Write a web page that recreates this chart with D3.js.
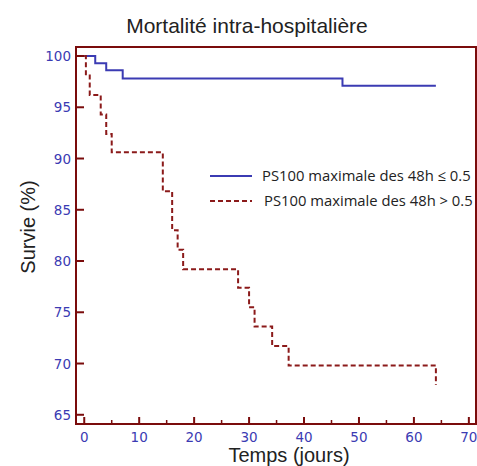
<!DOCTYPE html>
<html>
<head>
<meta charset="utf-8">
<script src="https://cdn.jsdelivr.net/npm/d3@7"></script>
<style>
  body { margin: 0; background: #fff; }
  text { font-family: "Liberation Sans", Arial, sans-serif; }
</style>
</head>
<body>
<svg id="chart" width="477" height="466"></svg>
<script>
// survival curves (time in days, survival in %)
const lowTimes = [0, 2, 4, 7, 47, 64];
const lowSurv = [100, 99.3, 98.6, 97.8, 97.1, 97.1];
const highTimes = [0, 0.3, 1, 3, 4, 5, 14.3, 16, 17, 18, 28, 30, 31, 34.2, 37.2, 64];
const highSurv = [100, 98.1, 96.2, 94.3, 92.4, 90.6, 86.8, 83.0, 81.1, 79.2, 77.4, 75.5, 73.6, 71.7, 69.8, 67.9];
const xTicks = [0, 10, 20, 30, 40, 50, 60, 70];
const xMinor = [5, 15, 25, 35, 45, 55, 65];
const yTicks = [65, 70, 75, 80, 85, 90, 95, 100];
const legendLabels = ["PS100 maximale des 48h \u2264 0.5", "PS100 maximale des 48h > 0.5"];

const frameColor = "#7a0c0c";
const blue = "#3b3bb3";
const red = "#8b1a1a";

const svg = d3.select("#chart");
const mLeft = 76, mRight = 476, mTop = 47, mBottom = 424;

const X = d3.scaleLinear().domain([-1.5, 71.3]).range([mLeft, mRight]);
const Y = d3.scaleLinear().domain([64.1, 100.88]).range([mBottom, mTop]);

// title and axis labels
svg.append("text").attr("x", 247).attr("y", 33)
    .attr("text-anchor", "middle").attr("font-size", 21).attr("fill", "#222")
    .text("Mortalité intra-hospitalière");
svg.append("text").attr("transform", "translate(35,227) rotate(-90)")
    .attr("text-anchor", "middle").attr("font-size", 20).attr("fill", "#222")
    .text("Survie (%)");
svg.append("text").attr("x", 289).attr("y", 462)
    .attr("text-anchor", "middle").attr("font-size", 20).attr("fill", "#222")
    .text("Temps (jours)");

// frame
svg.append("rect").attr("x", mLeft).attr("y", mTop)
    .attr("width", mRight - mLeft).attr("height", mBottom - mTop)
    .attr("fill", "none").attr("stroke", frameColor).attr("stroke-width", 2);

// x axis ticks (inward)
svg.selectAll("line.xt").data(xTicks).enter().append("line")
    .attr("x1", d => X(d)).attr("x2", d => X(d))
    .attr("y1", mBottom).attr("y2", mBottom - 7)
    .attr("stroke", frameColor).attr("stroke-width", 2);
svg.selectAll("line.xm").data(xMinor).enter().append("line")
    .attr("x1", d => X(d)).attr("x2", d => X(d))
    .attr("y1", mBottom).attr("y2", mBottom - 4)
    .attr("stroke", frameColor).attr("stroke-width", 1.5);
svg.selectAll("text.xl").data(xTicks).enter().append("text")
    .attr("x", d => X(d)).attr("y", mBottom + 18)
    .attr("text-anchor", "middle").attr("font-size", 13.5).attr("fill", blue)
    .style("font-family", "'DejaVu Sans', sans-serif")
    .text(d => d);

// y axis ticks (inward)
svg.selectAll("line.yt").data(yTicks).enter().append("line")
    .attr("x1", mLeft).attr("x2", mLeft + 8)
    .attr("y1", d => Y(d)).attr("y2", d => Y(d))
    .attr("stroke", frameColor).attr("stroke-width", 2);
svg.selectAll("text.yl").data(yTicks).enter().append("text")
    .attr("x", mLeft - 5).attr("y", d => Y(d) + 5)
    .attr("text-anchor", "end").attr("font-size", 13.5).attr("fill", blue)
    .style("font-family", "'DejaVu Sans', sans-serif")
    .text(d => d);

// step curves
const stepLine = d3.line().x(d => X(d[0])).y(d => Y(d[1])).curve(d3.curveStepAfter);
const lowPts = lowTimes.map((t, i) => [t, lowSurv[i]]);

svg.append("path").datum(lowPts)
    .attr("d", stepLine)
    .attr("fill", "none").attr("stroke", blue).attr("stroke-width", 2);

// red path: vertical drop at each time, including the last one at t=64
const redPts = [];
for (let i = 0; i < highTimes.length; i++) {
    if (i > 0) redPts.push([highTimes[i], highSurv[i - 1]]);
    redPts.push([highTimes[i], highSurv[i]]);
}
svg.append("path").datum(redPts)
    .attr("d", d3.line().x(d => X(d[0])).y(d => Y(d[1])))
    .attr("fill", "none").attr("stroke", red).attr("stroke-width", 2)
    .attr("stroke-dasharray", "5,3");

// legend
const legend = [
    { label: legendLabels[0], color: blue, dash: null, y: 176, tx: 262 },
    { label: legendLabels[1], color: red, dash: "5,3", y: 201, tx: 264 }
];
legend.forEach(function (d) {
    svg.append("line").attr("x1", 210).attr("x2", 252)
        .attr("y1", d.y).attr("y2", d.y)
        .attr("stroke", d.color).attr("stroke-width", 2)
        .attr("stroke-dasharray", d.dash);
    svg.append("text").attr("x", d.tx).attr("y", d.y + 5)
        .attr("font-size", 14.8).attr("fill", "#222")
        .style("font-family", "'Open Sans', sans-serif")
        .text(d.label);
});
</script>
</body>
</html>
